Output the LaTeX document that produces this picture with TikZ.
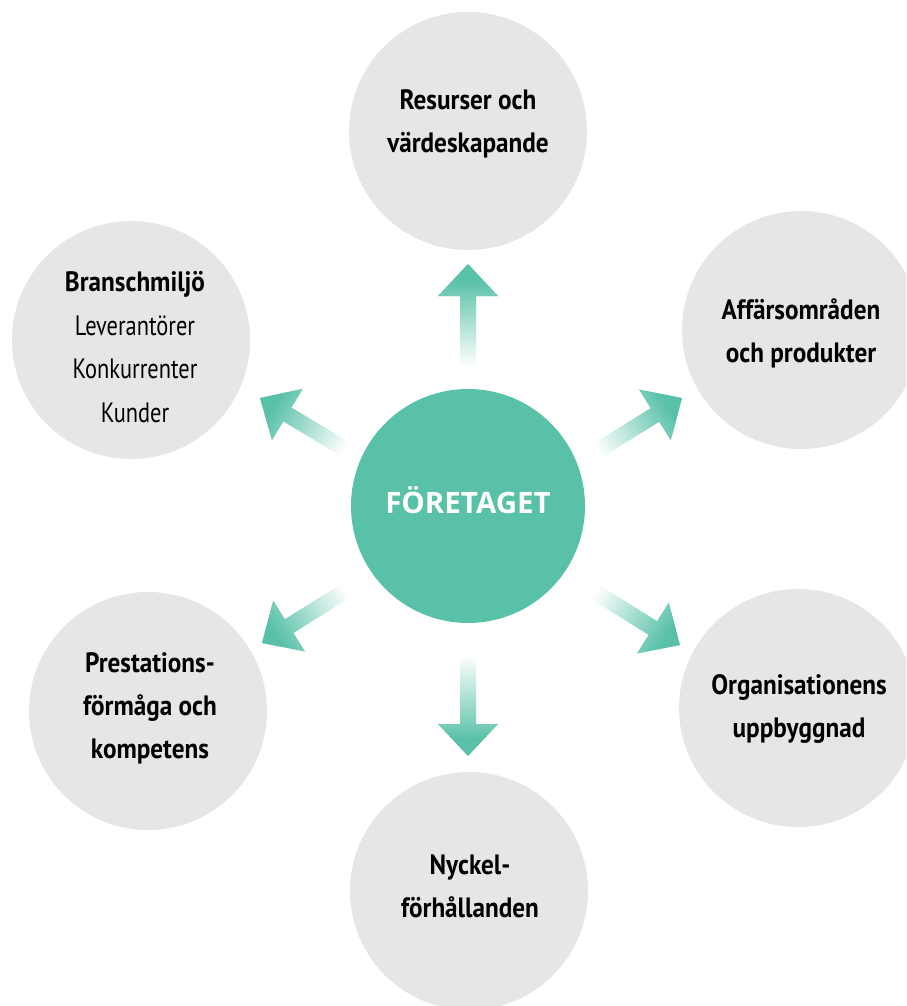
\documentclass[tikz,border=0pt]{standalone}
\usepackage{fontspec}
\newfontfamily\cond[FakeStretch=0.8]{PT Sans}
\newfontfamily\condb[FakeStretch=0.9]{PT Sans}
\newfontfamily\osans{Open Sans}
\definecolor{fteal}{RGB}{89,193,168}
\definecolor{cgrey}{RGB}{230,230,230}
\newcommand\fadearrow[3]{%
  \begin{scope}[shift={(#1)}, rotate=#2]
    \clip (0,0) -- (-32,30) -- (-32,8) -- (-#3,8) -- (-#3,-8) -- (-32,-8) -- (-32,-30) -- cycle;
    \foreach \i in {0,...,59}{
      \pgfmathtruncatemacro\p{min(100,118*\i/59)}
      \fill[fteal!\p!white] ({-#3+\i*#3/60},-31) rectangle ({-#3+(\i+1)*#3/60+0.8},31);
    }
  \end{scope}}
\tikzset{
  outer/.style={circle, fill=cgrey, minimum size=238pt, inner sep=0pt},
  centre/.style={circle, fill=fteal, minimum size=234pt, inner sep=0pt},
  lbl/.style={align=center, text=black, font=\condb\bfseries\fontsize{28}{43}\selectfont},
  lblr/.style={align=center, text=black, font=\cond\fontsize{28}{43.5}\selectfont},
  ctext/.style={text=white, font=\osans\bfseries\fontsize{29.5}{34}\selectfont, inner sep=0pt}
}
\begin{document}
\begin{tikzpicture}[x=1pt,y=-1pt]
\useasboundingbox (0,0) rectangle (906,1006);
\clip (0,0) rectangle (906,1006);
\node[outer] (n1) at (468,131) {};
\node[outer] (n2) at (801,330) {};
\node[outer] (n3) at (798,708) {};
\node[outer] (n4) at (469,891) {};
\node[outer] (n5) at (148,711) {};
\node[outer] (n6) at (131,340) {};
\node[centre] (c) at (468,506) {};
\node[lbl] (t1) at (468,124) {Resurser och\\värdeskapande};
\node[lbl] (t2) at (801,333) {Affärsområden\\och produkter};
\node[lbl] (t3) at (799,709) {Organisationens\\uppbyggnad};
\node[lbl] (t4) at (470,886) {Nyckel-\\förhållanden};
\node[lbl] (t5) at (150,708) {Prestations-\\förmåga och\\kompetens};
\node[lblr] (t6) at (135,347) {{\condb\bfseries Branschmiljö}\\Leverantörer\\Konkurrenter\\Kunder};
\node[ctext, anchor=base] (ct) at (468,513) {FÖRETAGET};
\coordinate (aU) at (468,264);
\coordinate (aD) at (468,756);
\coordinate (aTL) at (260,398);
\coordinate (aTR) at (682,398);
\coordinate (aBR) at (680,645);
\coordinate (aBL) at (262,643);
\fadearrow{aU}{90}{104}
\fadearrow{aD}{-90}{101}
\fadearrow{aTL}{149}{100}
\fadearrow{aTR}{32}{100}
\fadearrow{aBR}{-32}{100}
\fadearrow{aBL}{-148}{100}
\end{tikzpicture}
\end{document}
